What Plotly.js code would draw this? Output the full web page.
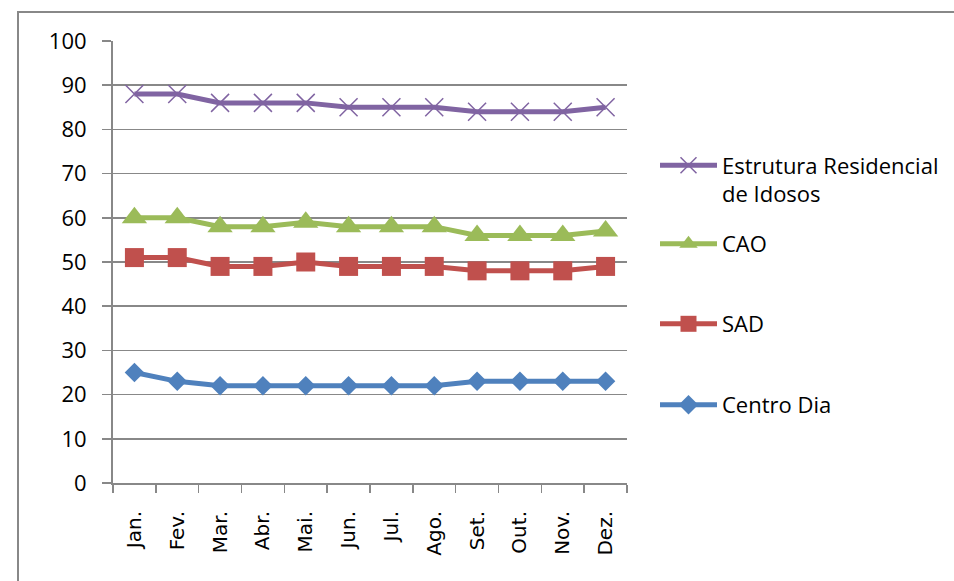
<!DOCTYPE html>
<html>
<head>
<meta charset="utf-8">
<script src="https://cdn.plot.ly/plotly-3.0.1.min.js"></script>
<style>
  html, body { margin: 0; padding: 0; background: #ffffff; overflow: hidden; }
  #frame { position: absolute; left: 17px; top: 11px; width: 2000px; height: 2000px;
           border: 2px solid #888888; box-sizing: border-box; }
  #chart { position: absolute; left: 0; top: 0; width: 954px; height: 581px; }
</style>
</head>
<body>
<div id="frame"></div>
<div id="chart"></div>
<script>
const months = ["Jan.", "Fev.", "Mar.", "Abr.", "Mai.", "Jun.", "Jul.", "Ago.", "Set.", "Out.", "Nov.", "Dez."];
const estrutura = [88, 88, 86, 86, 86, 85, 85, 85, 84, 84, 84, 85];
const cao = [60, 60, 58, 58, 59, 58, 58, 58, 56, 56, 56, 57];
const sad = [51, 51, 49, 49, 50, 49, 49, 49, 48, 48, 48, 49];
const centroDia = [25, 23, 22, 22, 22, 22, 22, 22, 23, 23, 23, 23];
const yTicks = [0, 10, 20, 30, 40, 50, 60, 70, 80, 90, 100];

const legendFont = {family: "Open Sans, Noto Sans, sans-serif", size: 22, color: "#000000"};

const traces = [
  {x: months, y: centroDia, name: "Centro Dia", type: "scatter", mode: "lines+markers",
   line: {color: "#4F81BD", width: 5},
   marker: {symbol: "diamond", size: 15, color: "#4F81BD"}, legend: "legend4"},
  {x: months, y: sad, name: "SAD", type: "scatter", mode: "lines+markers",
   line: {color: "#C0504D", width: 5},
   marker: {symbol: "square", size: 19, color: "#C0504D"}, legend: "legend3"},
  {x: months, y: cao, name: "CAO", type: "scatter", mode: "lines+markers",
   line: {color: "#9BBB59", width: 5},
   marker: {symbol: "triangle-up", size: 22, color: "#9BBB59"}, legend: "legend2"},
  {x: months, y: estrutura, name: "Estrutura Residencial<br>de Idosos", type: "scatter", mode: "lines+markers",
   line: {color: "#8064A2", width: 5},
   marker: {symbol: "x-thin-open", size: 18, color: "#8064A2", line: {color: "#8064A2", width: 1.5}},
   legend: "legend"}
];

function leg(ypx) {
  return {x: (655 - 113) / 514, xanchor: "left", y: (483 - ypx) / 442, yanchor: "middle",
          font: legendFont, bgcolor: "rgba(0,0,0,0)", borderwidth: 0, itemwidth: 57,
          valign: "top"};
}

const layout = {
  width: 954, height: 581,
  margin: {l: 113, r: 327, t: 41, b: 98, pad: 0, autoexpand: false},
  paper_bgcolor: "rgba(0,0,0,0)", plot_bgcolor: "rgba(0,0,0,0)",
  showlegend: true,
  legend: leg(180),
  legend2: leg(244),
  legend3: leg(324),
  legend4: leg(405),
  xaxis: {
    type: "category", categoryarray: months, range: [-0.5, 11.5],
    showgrid: false, showline: true, linecolor: "#888888", linewidth: 2,
    ticks: "outside", tickson: "boundaries", ticklen: 8, tickcolor: "#888888", tickwidth: 1.5,
    tickangle: -90, ticklabelstandoff: 18,
    tickfont: {family: "DejaVu Sans, Verdana, sans-serif", size: 20, color: "#000000"},
    zeroline: false, fixedrange: true
  },
  yaxis: {
    range: [0, 100], tickvals: yTicks, ticktext: yTicks.map(String),
    showgrid: true, gridcolor: "#888888", gridwidth: 1.5,
    showline: true, linecolor: "#888888", linewidth: 2,
    ticks: "outside", ticklen: 9, tickcolor: "#888888", tickwidth: 1.5,
    ticklabelstandoff: 11,
    tickfont: {family: "Open Sans, Noto Sans, sans-serif", size: 22, color: "#000000"},
    zeroline: false, fixedrange: true
  }
};

Plotly.newPlot("chart", traces, layout, {displayModeBar: false, staticPlot: true});
</script>
</body>
</html>
